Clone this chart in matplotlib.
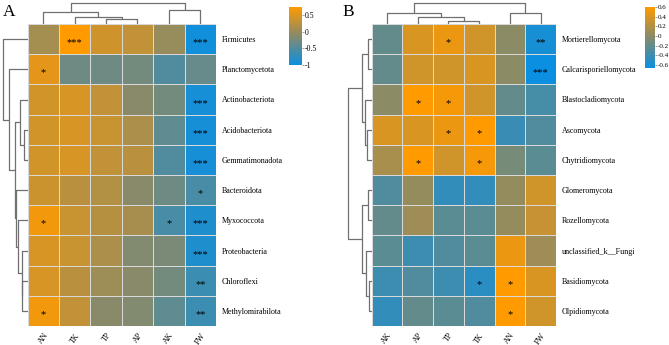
import numpy as np
import matplotlib
matplotlib.use("Agg")
import matplotlib.pyplot as plt
from matplotlib.colors import LinearSegmentedColormap, Normalize
from matplotlib.cm import ScalarMappable

plt.rcParams['font.family'] = ['Liberation Serif', 'DejaVu Serif']

# ---------------- Data: panel A ----------------
a_cols = ["AN", "TK", "TP", "AP", "AK", "FW"]
a_rows = ["Firmicutes", "Planctomycetota", "Actinobacteriota", "Acidobacteriota",
          "Gemmatimonadota", "Bacteroidota", "Myxococcota", "Proteobacteria",
          "Chloroflexi", "Methylomirabilota"]
a_vals = [
    [0.10, 0.75, 0.40, 0.30, 0.00, -0.95],
    [0.55, -0.30, -0.30, -0.25, -0.50, -0.35],
    [0.42, 0.45, 0.30, -0.10, -0.25, -0.92],
    [0.42, 0.45, 0.35, 0.15, -0.40, -0.92],
    [0.42, 0.45, 0.30, 0.25, -0.50, -0.92],
    [0.38, 0.25, 0.20, -0.10, -0.30, -0.55],
    [0.65, 0.35, 0.22, 0.12, -0.55, -0.85],
    [0.45, 0.35, 0.15, -0.15, -0.20, -0.85],
    [0.45, 0.25, 0.05, -0.10, -0.25, -0.65],
    [0.65, 0.30, -0.10, -0.15, -0.40, -0.65],
]
a_sig = [
    ["", "***", "", "", "", "***"],
    ["*", "", "", "", "", ""],
    ["", "", "", "", "", "***"],
    ["", "", "", "", "", "***"],
    ["", "", "", "", "", "***"],
    ["", "", "", "", "", "*"],
    ["*", "", "", "", "*", "***"],
    ["", "", "", "", "", "***"],
    ["", "", "", "", "", "**"],
    ["*", "", "", "", "", "**"],
]
a_range = (-1.0, 0.75)
a_ticks = [-1, -0.5, 0, 0.5]
# linkage trees: [left, right, merge height]; leaves are indices in display order
a_col_tree = [[0, [1, [2, 3, 4.6], 7.3], 11.6], [4, 5, 14.0], 20.6]
a_row_tree = [0, [1, [[2, [3, 4, 3.5], 7.5],
                      [5, [6, [7, [8, 9, 5.2], 6.0], 9.2], 11.2], 12.5], 18.2], 24.8]

# ---------------- Data: panel B ----------------
b_cols = ["AK", "AP", "TP", "TK", "AN", "FW"]
b_rows = ["Mortierellomycota", "Calcarisporiellomycota", "Blastocladiomycota",
          "Ascomycota", "Chytridiomycota", "Glomeromycota", "Rozellomycota",
          "unclassified_k__Fungi", "Basidiomycota", "Olpidiomycota"]
b_vals = [
    [-0.20, 0.40, 0.50, 0.35, 0.00, -0.60],
    [-0.20, 0.35, 0.35, 0.40, 0.00, -0.66],
    [0.00, 0.60, 0.55, 0.35, -0.20, -0.35],
    [0.40, 0.40, 0.50, 0.60, -0.42, -0.30],
    [0.15, 0.60, 0.35, 0.55, -0.10, -0.25],
    [-0.30, 0.05, -0.45, -0.45, 0.05, 0.35],
    [-0.20, 0.10, -0.25, -0.25, 0.05, 0.30],
    [-0.25, -0.40, -0.30, -0.25, 0.50, 0.10],
    [-0.40, -0.30, -0.40, -0.50, 0.60, 0.40],
    [-0.45, -0.20, -0.25, -0.30, 0.60, 0.35],
]
b_sig = [
    ["", "", "*", "", "", "**"],
    ["", "", "", "", "", "***"],
    ["", "*", "*", "", "", ""],
    ["", "", "*", "*", "", ""],
    ["", "*", "", "*", "", ""],
    ["", "", "", "", "", ""],
    ["", "", "", "", "", ""],
    ["", "", "", "", "", ""],
    ["", "", "", "*", "*", ""],
    ["", "", "", "", "*", ""],
]
b_range = (-0.66, 0.6)
b_ticks = [-0.6, -0.4, -0.2, 0, 0.2, 0.4, 0.6]
b_col_tree = [[0, [1, [2, 3, 3.3], 6.7], 10.7], [4, 5, 11.3], 21.3]
b_row_tree = [[[0, 1, 3.4], [2, [3, 4, 4.5], 6.5], 9.4],
              [[5, 6, 3.4], [7, [8, 9, 3.2], 6.0], 9.4], 24.0]

# ---------------- Styling ----------------
W, H = 669, 345
cmap = LinearSegmentedColormap.from_list("bo", ["#0b8fe0", "#858a6c", "#ff9a00"])
line_col = "#707070"

fig = plt.figure(figsize=(W / 100, H / 100), dpi=100)


def add_ax(x0, y0, x1, y1):
    return fig.add_axes([x0 / W, 1 - y1 / H, (x1 - x0) / W, (y1 - y0) / H])


def draw_tree(ax, node, orient):
    """Return (center, height) and draw U links."""
    if not isinstance(node, list):
        return node + 0.5, 0.0
    l, r, h = node
    cl, hl = draw_tree(ax, l, orient)
    cr, hr = draw_tree(ax, r, orient)
    if orient == "top":
        ax.plot([cl, cl, cr, cr], [hl, h, h, hr], color=line_col, lw=0.9,
                solid_capstyle="butt")
    else:
        ax.plot([hl, h, h, hr], [cl, cl, cr, cr], color=line_col, lw=0.9,
                solid_capstyle="butt")
    return (cl + cr) / 2, h


def panel(x0, x1, top, bot, cols, rows, vals, sig, vrange, col_tree, row_tree,
          cb_box, ticks, letter, letter_x, cb_fs):
    vals = np.array(vals)
    norm = Normalize(*vrange)
    ax = add_ax(x0, top, x1, bot)
    ax.pcolormesh(np.arange(len(cols) + 1), np.arange(len(rows) + 1), vals,
                  cmap=cmap, norm=norm, edgecolors="#d9d9d9", linewidth=0.6)
    ax.set_xlim(0, len(cols))
    ax.set_ylim(len(rows), 0)
    for s in ax.spines.values():
        s.set_visible(False)
    ax.set_yticks(np.arange(len(rows)) + 0.5)
    ax.set_yticklabels(rows, fontsize=5.8)
    ax.yaxis.tick_right()
    ax.set_xticks(np.arange(len(cols)) + 0.5)
    ax.set_xticklabels(cols, fontsize=5.8, rotation=55, ha="right",
                       rotation_mode="anchor")
    ax.tick_params(length=0, pad=4)
    for i in range(len(rows)):
        for j in range(len(cols)):
            if sig[i][j]:
                ax.text(j + 0.5, i + 0.62, sig[i][j], ha="center", va="center",
                        fontsize=7.5, color="black")
    # column dendrogram
    axc = add_ax(x0, 0, x1, top)
    draw_tree(axc, col_tree, "top")
    axc.set_xlim(0, len(cols))
    axc.set_ylim(0, top)
    axc.axis("off")
    # row dendrogram
    axr = add_ax(x0 - 27.5, top, x0, bot)
    draw_tree(axr, row_tree, "left")
    axr.set_xlim(27.5, 0)
    axr.set_ylim(len(rows), 0)
    axr.axis("off")
    # colorbar
    cax = add_ax(*cb_box)
    cb = fig.colorbar(ScalarMappable(norm=norm, cmap=cmap), cax=cax)
    cb.outline.set_visible(False)
    cb.set_ticks(ticks)
    cb.set_ticklabels([f"{t:g}" for t in ticks])
    cax.tick_params(labelsize=cb_fs, length=1.2, width=0.5, color="#777777", pad=0.8)
    fig.text(letter_x / W, 1 - 16.5 / H, letter, fontsize=12.5, ha="left",
             va="baseline")


panel(27.5, 216, 24, 326, a_cols, a_rows, a_vals, a_sig, a_range,
      a_col_tree, a_row_tree, (289, 7, 302, 65), a_ticks, "A", 3, 5.6)
panel(371.7, 556, 24, 326, b_cols, b_rows, b_vals, b_sig, b_range,
      b_col_tree, b_row_tree, (645, 7, 655, 68), b_ticks, "B", 342.5, 5.0)

fig.savefig("out.png", dpi=100, facecolor="white")
